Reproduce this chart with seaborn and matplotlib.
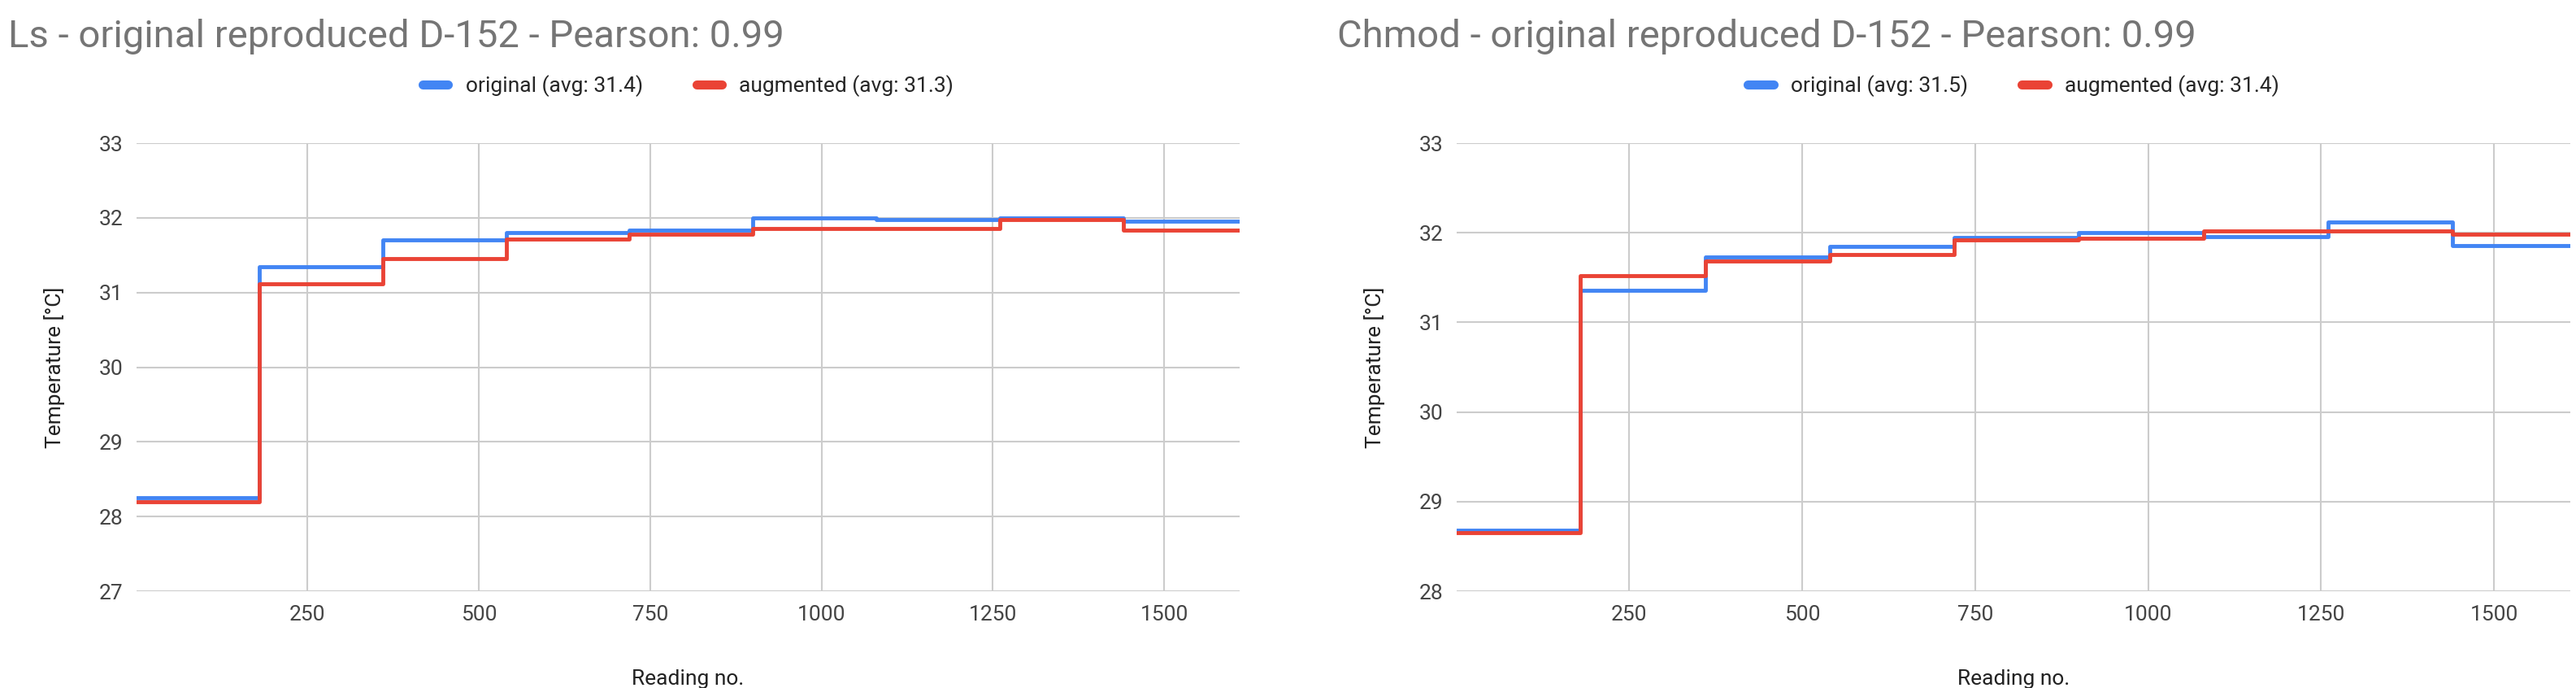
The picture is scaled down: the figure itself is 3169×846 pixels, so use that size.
import matplotlib
matplotlib.use("Agg")
import matplotlib.pyplot as plt
import seaborn as sns
import pandas as pd

# === DATOS ===
step_x = [1, 180, 360, 540, 720, 900, 1080, 1260, 1440, 1610]

ls_original = [28.25, 31.35, 31.70, 31.80, 31.84, 32.00, 31.98, 32.00, 31.96]
ls_augmented = [28.20, 31.12, 31.45, 31.72, 31.78, 31.86, 31.86, 31.98, 31.84]
chmod_original = [28.68, 31.36, 31.73, 31.85, 31.95, 32.00, 31.96, 32.12, 31.86]
chmod_augmented = [28.65, 31.52, 31.68, 31.76, 31.92, 31.94, 32.02, 32.02, 31.98]

panels = [
    ("Ls - original reproduced D-152 - Pearson: 0.99", ls_original, ls_augmented,
     "original (avg: 31.4)", "augmented (avg: 31.3)", (27, 33)),
    ("Chmod - original reproduced D-152 - Pearson: 0.99", chmod_original, chmod_augmented,
     "original (avg: 31.5)", "augmented (avg: 31.4)", (28, 33)),
]

BLUE = "#4285f4"
RED = "#ea4335"

sns.set_theme(style="whitegrid")
plt.rcParams["font.family"] = ["Roboto", "DejaVu Sans"]

fig = plt.figure(figsize=(31.69, 8.46), dpi=100)
ax_rects = [[168 / 3169, 119 / 846, 1357 / 3169, 551 / 846],
            [1792 / 3169, 119 / 846, 1370 / 3169, 551 / 846]]
title_x = [10, 1645]

for rect, tx, (title, orig, aug, lab_o, lab_a, ylim) in zip(ax_rects, title_x, panels):
    ax = fig.add_axes(rect)
    df = pd.DataFrame({
        "x": step_x + step_x,
        "y": orig + [orig[-1]] + aug + [aug[-1]],
        "serie": [lab_o] * len(step_x) + [lab_a] * len(step_x),
    })
    sns.lineplot(data=df, x="x", y="y", hue="serie", palette=[BLUE, RED],
                 drawstyle="steps-post", linewidth=3.5, ax=ax, legend=False)
    ax.set_xlim(1, 1610)
    ax.set_ylim(*ylim)
    ax.set_xticks([250, 500, 750, 1000, 1250, 1500])
    ax.set_yticks(range(ylim[0], ylim[1] + 1))
    ax.grid(True, color="#cccccc", linewidth=1.5)
    for s in ax.spines.values():
        s.set_visible(False)
    ax.tick_params(labelsize=19, colors="#444444", length=0, pad=12)
    ax.set_xlabel("Reading no.", fontsize=19, color="#222222", labelpad=40)
    ax.set_ylabel("Temperature [°C]", fontsize=19, color="#222222", labelpad=30)
    fig.text(tx / 3169, 1 - 45 / 846, title, fontsize=34, color="#757575", va="center")
    handles = [plt.Line2D([], [], color=BLUE, linewidth=8),
               plt.Line2D([], [], color=RED, linewidth=8)]
    ax.legend(handles, [lab_o, lab_a], loc="lower center", bbox_to_anchor=(0.5, 1.06),
              ncol=2, frameon=False, fontsize=19, handlelength=1.2, columnspacing=2.5)

fig.savefig("out.png", dpi=100, facecolor="white")
